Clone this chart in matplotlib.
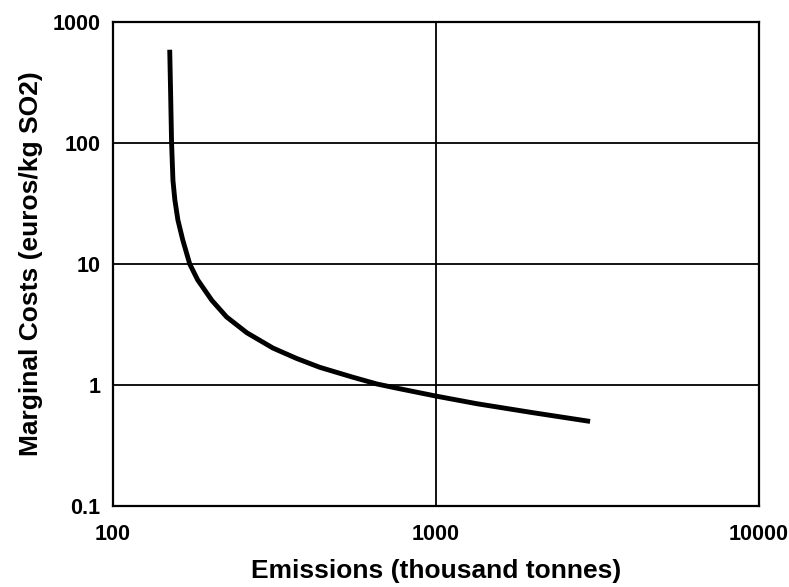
import matplotlib
matplotlib.use("Agg")
import matplotlib.pyplot as plt
from matplotlib.ticker import FixedLocator, FixedFormatter, NullLocator

plt.rcParams['font.family'] = ['Liberation Sans', 'DejaVu Sans']

emissions = [150, 151, 152, 153.5, 155.6, 159, 164.6, 173, 183, 202.6, 225, 260,
             313, 370, 437, 553, 656, 774, 1000, 1340, 2000, 3000]
marginal_costs = [590, 250, 100, 49, 33.8, 23.1, 15.8, 10, 7.4, 5.0, 3.65, 2.7,
                  2.02, 1.66, 1.40, 1.16, 1.02, 0.93, 0.81, 0.70, 0.59, 0.50]
x_ticks = [100, 1000, 10000]
x_tick_labels = ["100", "1000", "10000"]
y_ticks = [0.1, 1, 10, 100, 1000]
y_tick_labels = ["0.1", "1", "10", "100", "1000"]

fig = plt.figure(figsize=(7.89, 5.87), dpi=100)
ax = fig.add_axes([0.143, 0.138, 0.819, 0.8245])
ax.set_xscale('log')
ax.set_yscale('log')
ax.plot(emissions, marginal_costs, color='black', linewidth=3.5,
        solid_capstyle='butt', solid_joinstyle='round')
ax.set_xlim(100, 10000)
ax.set_ylim(0.1, 1000)
ax.xaxis.set_major_locator(FixedLocator(x_ticks))
ax.xaxis.set_major_formatter(FixedFormatter(x_tick_labels))
ax.yaxis.set_major_locator(FixedLocator(y_ticks))
ax.yaxis.set_major_formatter(FixedFormatter(y_tick_labels))
ax.xaxis.set_minor_locator(NullLocator())
ax.yaxis.set_minor_locator(NullLocator())
ax.grid(True, which='major', color='black', linewidth=1.3)
for s in ax.spines.values():
    s.set_linewidth(1.6)
ax.tick_params(axis='both', length=0, labelsize=15.5)
ax.tick_params(axis='x', pad=13)
ax.tick_params(axis='y', pad=9)
for lab in ax.get_xticklabels() + ax.get_yticklabels():
    lab.set_fontweight('bold')
ax.set_xlabel('Emissions (thousand tonnes)', fontsize=19, fontweight='bold', labelpad=10)
ax.set_ylabel('Marginal Costs (euros/kg SO2)', fontsize=19, fontweight='bold', labelpad=7)
fig.savefig('out.png', dpi=100)
